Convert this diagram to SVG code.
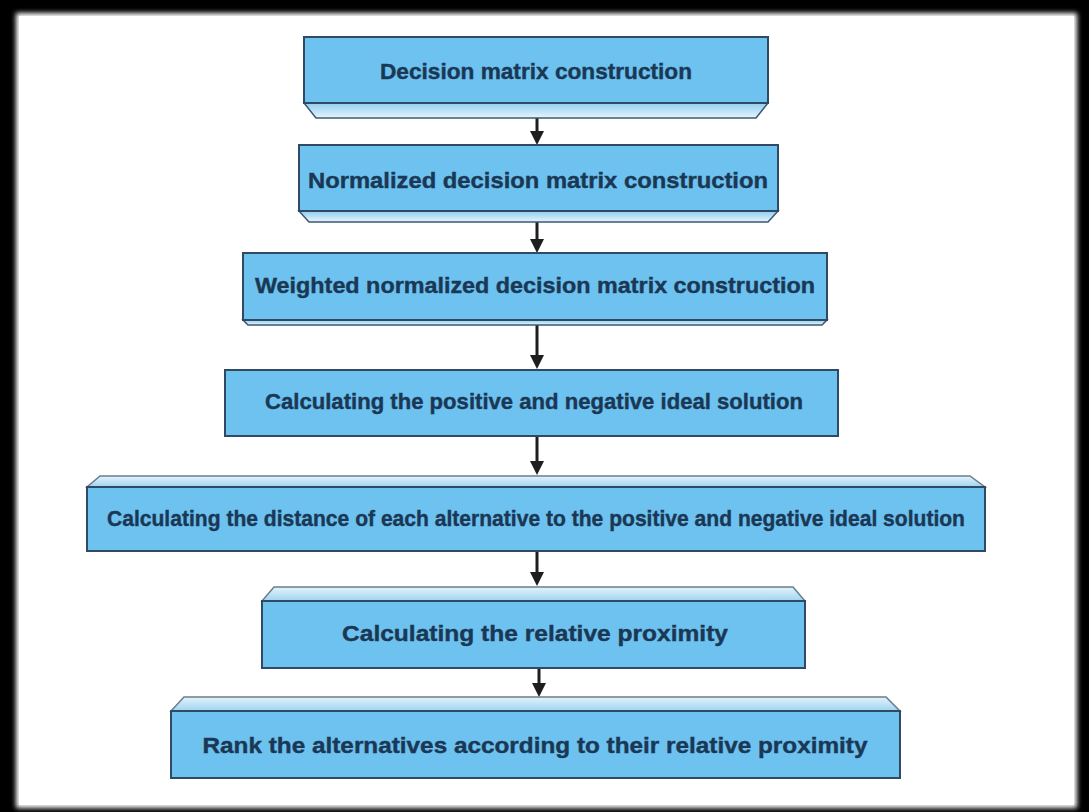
<svg xmlns="http://www.w3.org/2000/svg" width="1089" height="812" viewBox="0 0 1089 812">
<defs>
<style>
.front{fill:#6ec2ef;stroke:#2f4b63;stroke-width:2}
.bevB{fill:url(#gb);stroke:#3d5870;stroke-width:1.5}
.bevT{fill:url(#gt);stroke:#6b7d8c;stroke-width:1.5}
.lbl{font-family:"Liberation Sans",Arial,sans-serif;font-weight:bold;font-size:22px;fill:#1a3855;text-anchor:middle;stroke:#1a3855;stroke-width:0.4}
.conn{stroke:#1e1e1e;stroke-width:3;fill:none}
.head{fill:#1e1e1e}
</style>
<linearGradient id="gb" x1="0" y1="0" x2="0" y2="1">
<stop offset="0" stop-color="#8fcdef"/>
<stop offset="1" stop-color="#e6f5fc"/>
</linearGradient>
<linearGradient id="gt" x1="0" y1="0" x2="0" y2="1">
<stop offset="0" stop-color="#e3f3fb"/>
<stop offset="1" stop-color="#9fd4f1"/>
</linearGradient>
<filter id="soft" x="-5%" y="-5%" width="110%" height="110%">
<feGaussianBlur stdDeviation="2.5"/>
</filter>
</defs>
<rect x="0" y="0" width="1089" height="812" fill="#000"/>
<rect x="16" y="13" width="1061" height="795" fill="#fff" filter="url(#soft)"/>
<rect x="19" y="16" width="1055" height="789" fill="#fff"/>

<g id="connectors">
<line class="conn" x1="537" y1="118" x2="537" y2="132"/>
<polygon class="head" points="530,131 544,131 537,145"/>
<line class="conn" x1="537" y1="222" x2="537" y2="240"/>
<polygon class="head" points="530,239 544,239 537,253"/>
<line class="conn" x1="537" y1="325" x2="537" y2="356"/>
<polygon class="head" points="530,355 544,355 537,369"/>
<line class="conn" x1="537" y1="436" x2="537" y2="462"/>
<polygon class="head" points="530,461 544,461 537,475"/>
<line class="conn" x1="537" y1="551" x2="537" y2="573"/>
<polygon class="head" points="530,572 544,572 537,586"/>
<line class="conn" x1="539" y1="668" x2="539" y2="684"/>
<polygon class="head" points="532,683 546,683 539,697"/>
</g>

<g id="n1">
<polygon class="bevB" points="304,103 768,103 756,118 316,118"/>
<rect class="front" x="304" y="37" width="464" height="66"/>
<text class="lbl" x="536" y="79" textLength="312" lengthAdjust="spacingAndGlyphs">Decision matrix construction</text>
</g>

<g id="n2">
<polygon class="bevB" points="299,211 778,211 768,222 309,222"/>
<rect class="front" x="299" y="145" width="479" height="66"/>
<text class="lbl" x="538" y="188" textLength="460" lengthAdjust="spacingAndGlyphs">Normalized decision matrix construction</text>
</g>

<g id="n3">
<polygon class="bevB" points="243,320 827,320 822,325 248,325"/>
<rect class="front" x="243" y="253" width="584" height="67"/>
<text class="lbl" x="535" y="293" textLength="560" lengthAdjust="spacingAndGlyphs">Weighted normalized decision matrix construction</text>
</g>

<g id="n4">
<rect class="front" x="225" y="370" width="613" height="66"/>
<text class="lbl" x="534" y="409" textLength="538" lengthAdjust="spacingAndGlyphs">Calculating the positive and negative ideal solution</text>
</g>

<g id="n5">
<polygon class="bevT" points="100,476 970,476 985,487 87,487"/>
<rect class="front" x="87" y="487" width="898" height="64"/>
<text class="lbl" x="536" y="526" textLength="858" lengthAdjust="spacingAndGlyphs">Calculating the distance of each alternative to the positive and negative ideal solution</text>
</g>

<g id="n6">
<polygon class="bevT" points="274,587 793,587 805,601 262,601"/>
<rect class="front" x="262" y="601" width="543" height="67"/>
<text class="lbl" x="535" y="641" textLength="386" lengthAdjust="spacingAndGlyphs">Calculating the relative proximity</text>
</g>

<g id="n7">
<polygon class="bevT" points="184,697 886,697 900,711 171,711"/>
<rect class="front" x="171" y="711" width="729" height="67"/>
<text class="lbl" x="535" y="753" textLength="665" lengthAdjust="spacingAndGlyphs">Rank the alternatives according to their relative proximity</text>
</g>
</svg>
